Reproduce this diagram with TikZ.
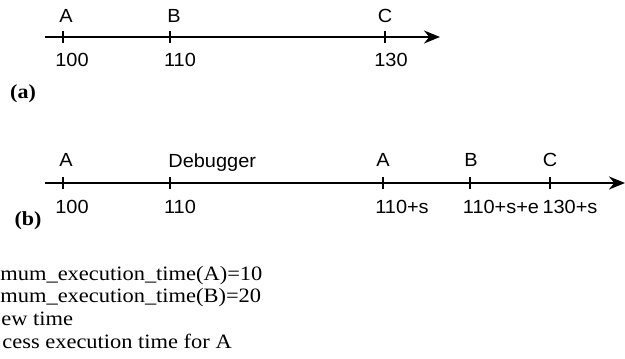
\documentclass[tikz,border=0pt]{standalone}
\usepackage{fontspec}
\setmainfont{Liberation Serif}
\newfontfamily\tlfont{Liberation Sans}[FakeStretch=1.05]
\newfontfamily\notefont{Liberation Serif}[FakeStretch=1.1]
\usetikzlibrary{positioning, arrows.meta}

\begin{document}
\begin{tikzpicture}[x=0.5pt, y=-0.5pt, every node/.style={inner sep=0pt}]
    \tikzstyle{axis} = [line width=1.2pt, -{Stealth[length=8pt, width=6.5pt]}]
    \tikzstyle{tick} = [line width=1.1pt]
    \tikzstyle{evt} = [font=\tlfont\fontsize{9.5}{11}\selectfont]
    \tikzstyle{stamp} = [font=\tlfont\fontsize{9.5}{11}\selectfont]
    \tikzstyle{tag} = [font=\notefont\fontsize{10}{12}\selectfont\bfseries]
    \tikzstyle{note} = [font=\notefont\fontsize{10.2}{12}\selectfont, anchor=base west]

    \useasboundingbox (0,0) rectangle (625,358);

    % Timeline (a)
    \coordinate (ta0) at (45,37);
    \coordinate (ta1) at (440,37);
    \coordinate (taA) at (63,37);
    \coordinate (taB) at (170,37);
    \coordinate (taC) at (385,37);
    \draw [axis] (ta0) -- (ta1);
    \foreach \t in {taA, taB, taC}
        \draw [tick] ([yshift=3pt]\t) -- ([yshift=-3pt]\t);

    \node (laA) [evt, above=7pt of taA, xshift=1.5pt] {A};
    \node (laB) [evt, above=7pt of taB, xshift=2pt] {B};
    \node (laC) [evt, above=7pt of taC] {C};
    \node (na100) [stamp, below=8pt of taA, xshift=4.5pt] {100};
    \node (na110) [stamp, below=8pt of taB, xshift=5pt] {110};
    \node (na130) [stamp, below=8pt of taC, xshift=3pt] {130};
    \node (tagA) [tag] at (23,94) {(a)};

    % Timeline (b)
    \coordinate (tb0) at (45,183);
    \coordinate (tb1) at (625,183);
    \coordinate (tbA) at (63,183);
    \coordinate (tbDbg) at (170,183);
    \coordinate (tbA2) at (383,183);
    \coordinate (tbB) at (470,183);
    \coordinate (tbC) at (550,183);
    \draw [axis] (tb0) -- (tb1);
    \foreach \t in {tbA, tbDbg, tbA2, tbB, tbC}
        \draw [tick] ([yshift=3pt]\t) -- ([yshift=-3pt]\t);

    \node (lbA) [evt, above=8pt of tbA, xshift=1.5pt] {A};
    \node (lbDbg) [evt, anchor=base west] at ([xshift=-1pt, yshift=8pt]tbDbg) {Debugger};
    \node (lbA2) [evt, above=8pt of tbA2] {A};
    \node (lbB) [evt, above=8pt of tbB, xshift=0.5pt] {B};
    \node (lbC) [evt, above=8pt of tbC] {C};
    \node (nb100) [stamp, below=8.5pt of tbA, xshift=4.5pt] {100};
    \node (nb110) [stamp, below=8.5pt of tbDbg, xshift=5pt] {110};
    \node (nbA2) [stamp, below=8.5pt of tbA2, xshift=9.5pt] {110+s};
    \node (nbB) [stamp, below=8.5pt of tbB, xshift=15.5pt] {110+s+e};
    \node (nbC) [stamp, below=8.5pt of tbC, xshift=10pt] {130+s};
    \node (tagB) [tag] at (28,221) {(b)};

    % Notes
    \node (note1) [note] at (0,280) {mum\_execution\_time(A)=10};
    \node (note2) [note] at (0,302) {mum\_execution\_time(B)=20};
    \node (note3) [note] at (1,325) {ew time};
    \node (note4) [note] at (2,348) {cess execution time for A};
\end{tikzpicture}
\end{document}
